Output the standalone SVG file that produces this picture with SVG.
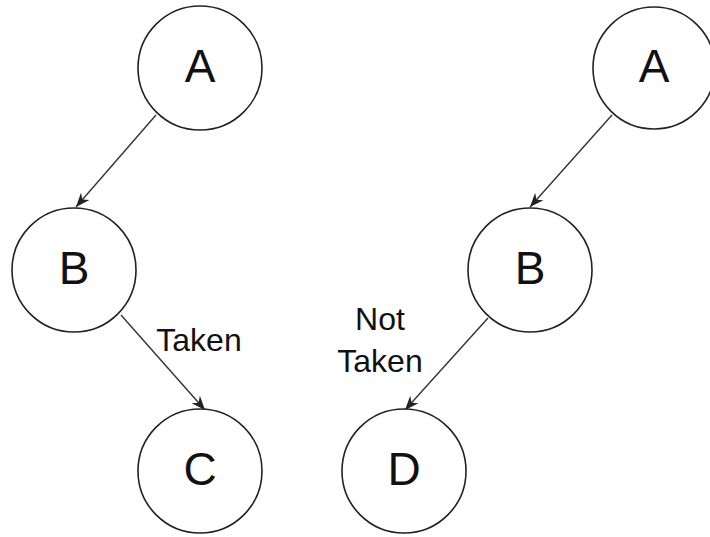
<svg xmlns="http://www.w3.org/2000/svg" width="710" height="537" viewBox="0 0 710 537">
<defs>
<marker id="arr" viewBox="0 0 10 10" refX="10" refY="5" markerWidth="14" markerHeight="14" markerUnits="userSpaceOnUse" orient="auto">
<path d="M0,1 L10,5 L0,9 L3,5 Z" fill="#222"/>
</marker>
<style>
.n circle{fill:#fff;stroke:#222;stroke-width:1.6}
.n text{font-family:"Liberation Sans",Arial,sans-serif;font-size:46px;fill:#111;text-anchor:middle}
.e line{stroke:#333;stroke-width:1.4;marker-end:url(#arr)}
.lbl{font-family:"Liberation Sans",Arial,sans-serif;font-size:32px;fill:#111;text-anchor:middle}
</style>
</defs>
<rect width="710" height="537" fill="#fff"/>
<g id="connectors" class="e">
<line x1="156" y1="115" x2="76" y2="207"/>
<line x1="121" y1="315" x2="205" y2="410"/>
<line x1="612" y1="115" x2="530" y2="207"/>
<line x1="488" y1="318" x2="405" y2="410"/>
</g>
<g id="nodeA1" class="n"><circle cx="200" cy="68" r="62"/><text x="200" y="82">A</text></g>
<g id="nodeB1" class="n"><circle cx="74" cy="270" r="62"/><text x="74" y="284">B</text></g>
<g id="nodeC" class="n"><circle cx="200" cy="471" r="62"/><text x="200" y="485">C</text></g>
<g id="nodeA2" class="n"><circle cx="654" cy="68" r="61"/><text x="654" y="82">A</text></g>
<g id="nodeB2" class="n"><circle cx="530" cy="270" r="62"/><text x="530" y="284">B</text></g>
<g id="nodeD" class="n"><circle cx="404" cy="471" r="62"/><text x="404" y="485">D</text></g>
<g id="labels">
<text class="lbl" x="199" y="351">Taken</text>
<text class="lbl" x="380" y="330">Not</text>
<text class="lbl" x="380" y="372">Taken</text>
</g>
</svg>
